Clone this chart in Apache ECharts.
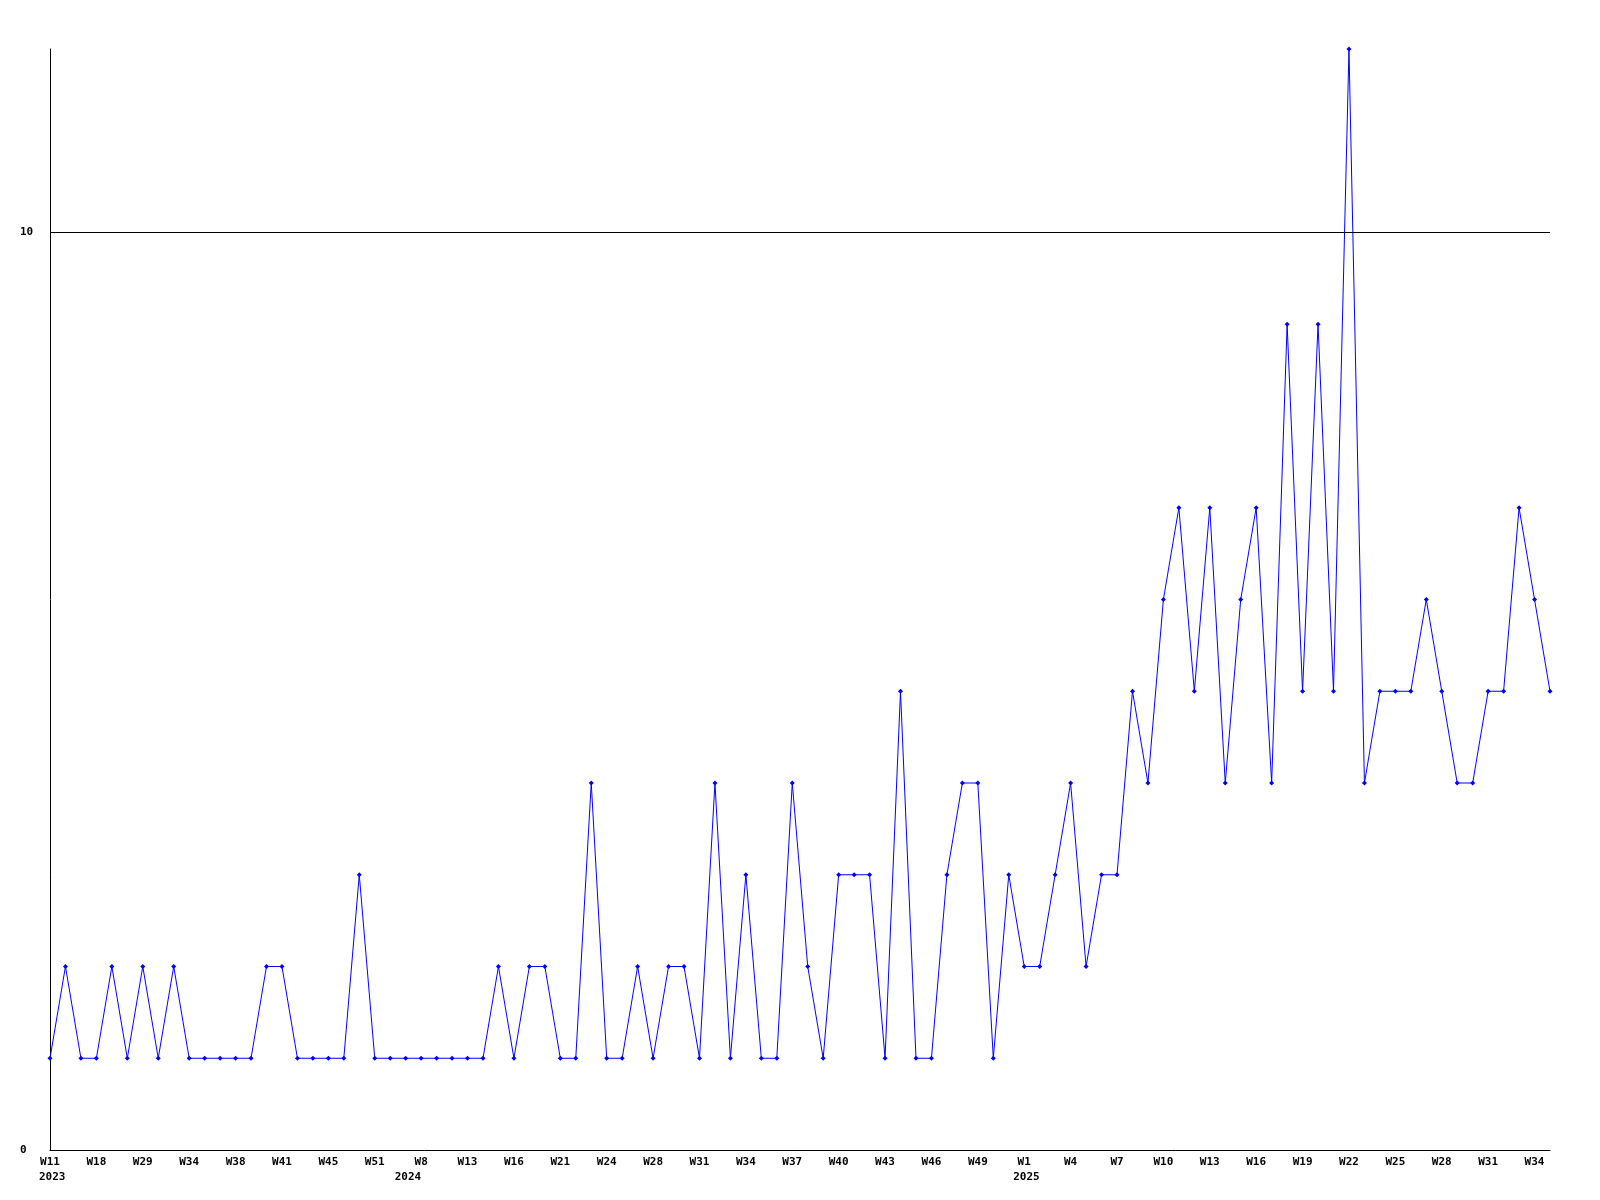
<!DOCTYPE html>
<html>
<head>
<meta charset="utf-8">
<script src="https://cdn.jsdelivr.net/npm/echarts@6/dist/echarts.min.js"></script>
<style>html,body{margin:0;padding:0;background:#fff}#chart{width:1600px;height:1200px}</style>
</head>
<body>
<div id="chart"></div>
<script>
// Week categories (one per data point)
const weeks = [
  'W11','W14','W16','W18','W22','W26','W29','W31','W32','W34',
  'W35','W36','W38','W39','W40','W41','W42','W44','W45','W47',
  'W49','W51','W52','W3','W8','W10','W11','W13','W14','W15',
  'W16','W18','W19','W21','W22','W23','W24','W25','W27','W28',
  'W29','W30','W31','W32','W33','W34','W35','W36','W37','W38',
  'W39','W40','W41','W42','W43','W44','W45','W46','W47','W48',
  'W49','W50','W51','W1','W2','W3','W4','W5','W6','W7',
  'W8','W9','W10','W11','W12','W13','W14','W15','W16','W17',
  'W18','W19','W20','W21','W22','W23','W24','W25','W26','W27',
  'W28','W29','W30','W31','W32','W33','W34','W35'
];
// Series values
const counts = [
  1,2,1,1,2,1,2,1,2,1,
  1,1,1,1,2,2,1,1,1,1,
  3,1,1,1,1,1,1,1,1,2,
  1,2,2,1,1,4,1,1,2,1,
  2,2,1,4,1,3,1,1,4,2,
  1,3,3,3,1,5,1,1,3,4,
  4,1,3,2,2,3,4,2,3,3,
  5,4,6,7,5,7,4,6,7,4,
  9,5,9,5,12,4,5,5,5,6,
  5,4,4,5,5,7,6,5
];
// Year labels and the index of the first week of each year
const yearLabels = ['2023','2024','2025'];
const yearStartIndex = [0, 23, 63];
// Y axis
const yMin = 0, yMax = 12, yInterval = 10;
const refLine = 10;

const font = { fontFamily: 'DejaVu Sans Mono', fontWeight: 'bold', fontSize: 11, color: '#000' };

const chart = echarts.init(document.getElementById('chart'), null, { renderer: 'canvas' });
chart.setOption({
  animation: false,
  backgroundColor: '#fff',
  grid: { left: 50, right: 50, top: 49, bottom: 50, containLabel: false },
  xAxis: [
    {
      type: 'category', data: weeks, boundaryGap: false,
      axisLine: { show: true, lineStyle: { color: '#000', width: 1 } },
      axisTick: { show: false },
      splitLine: { show: false },
      axisLabel: Object.assign({ interval: 2, margin: 7 }, font)
    },
    {
      type: 'category', data: weeks, boundaryGap: false, position: 'bottom',
      axisLine: { show: false }, axisTick: { show: false }, splitLine: { show: false },
      axisLabel: Object.assign({
        margin: 22,
        interval: function (idx) { return yearStartIndex.indexOf(idx) >= 0; },
        formatter: function (v, idx) {
          const k = yearStartIndex.indexOf(idx);
          return k >= 0 ? '{y|' + yearLabels[k] + '}' : '';
        },
        rich: { y: Object.assign({ width: 22, align: 'left' }, font) }
      }, font)
    }
  ],
  yAxis: {
    type: 'value', min: yMin, max: yMax, interval: yInterval,
    axisLine: { show: true, lineStyle: { color: '#000', width: 1 } },
    axisTick: { show: false },
    splitLine: { show: false },
    axisLabel: Object.assign({ showMaxLabel: false, align: 'left', margin: 30, padding: [3, 0, 0, 0] }, font)
  },
  series: [{
    type: 'line',
    data: counts,
    xAxisIndex: 0,
    symbol: 'diamond',
    symbolSize: 5,
    showSymbol: true,
    lineStyle: { color: '#0000ff', width: 1 },
    itemStyle: { color: '#0000ff' },
    markLine: {
      silent: true, symbol: 'none', label: { show: false },
      lineStyle: { color: '#000', width: 1, type: 'solid' },
      data: [{ yAxis: refLine }]
    },
    z: 3
  }]
});
</script>
</body>
</html>
